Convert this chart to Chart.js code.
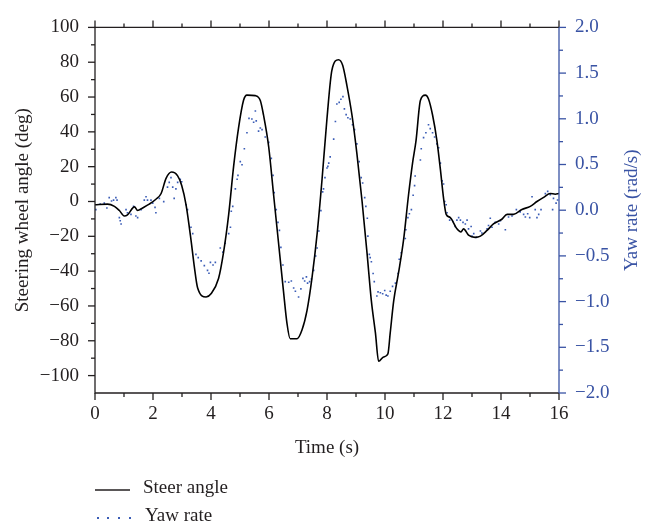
<!DOCTYPE html>
<html>
<head>
<meta charset="utf-8">
<script src="https://cdn.jsdelivr.net/npm/chart.js@4.4.0/dist/chart.umd.min.js"></script>
<style>
  html, body { margin: 0; padding: 0; background: #fff; }
  canvas { display: block; }
</style>
</head>
<body>
<canvas id="chart" width="661" height="531"></canvas>
<script>
// Steering wheel angle (deg) vs time (s)
const steerTime = [0, 0.43, 0.67, 0.84, 1.01, 1.12, 1.36, 1.47, 1.64, 1.87, 2.10, 2.28, 2.45, 2.64, 2.85, 2.99,
  3.14, 3.31, 3.42, 3.54, 3.83, 4.0, 4.26, 4.43, 4.61, 4.78, 4.95, 5.12, 5.24, 5.53, 5.70, 5.81, 5.99,
  6.16, 6.33, 6.50, 6.62, 6.73, 6.97, 7.14, 7.31, 7.48, 7.66, 7.83, 8.0, 8.17, 8.40, 8.54, 8.69, 8.86,
  9.03, 9.21, 9.38, 9.53, 9.67, 9.78, 9.95, 10.10, 10.18, 10.30, 10.47, 10.64, 10.81, 10.95, 11.07,
  11.22, 11.39, 11.50, 11.64, 11.79, 11.91, 12.02, 12.11, 12.25, 12.48, 12.62, 12.71, 12.88, 13.11,
  13.29, 13.52, 13.74, 14.03, 14.21, 14.43, 14.72, 15.01, 15.24, 15.47, 15.70, 15.87, 16.0];
const steerAngle = [-1.9, -1.5, -2.8, -5.2, -8.3, -7.7, -3.1, -5.2, -3.7, -1.5, 1.3, 4.6, 13.3, 16.9, 14.7, 9.2,
  -1.9, -22, -36.8, -49.7, -54.9, -53, -44.2, -29.5, -7.4, 20.2, 42.3, 58, 61.1, 60.8, 58, 49.7, 31.3,
  3.6, -24, -51.6, -70, -78.8, -78.8, -73.7, -62.7, -44.2, -18.5, 12.9, 47.8, 75.5, 81.4, 78.2, 66.3, 49.7,
  27.6, 0, -29.5, -57.1, -75.5, -91.8, -89.3, -87.5, -75.5, -57.1, -40.6, -22.1, 3.6, 22.1, 35,
  58, 61.1, 58.9, 49.7, 35, 18.4, 1.8, -7.4, -9.2, -15.7, -17.5, -15.7, -19.3, -20.6,
  -19.9, -16.6, -12.9, -10.2, -7.4, -7.4, -4.6, -2.8, 0, 2.4, 4.6, 4.2, 4.6];

// Yaw rate (rad/s) samples
const yawTime = [0.03, 0.18, 0.32, 0.41, 0.49, 0.57, 0.64, 0.72, 0.76, 0.84, 0.87, 0.90, 1.07, 1.12, 1.24, 1.33,
  1.41, 1.47, 1.59, 1.70, 1.76, 1.81, 1.93, 1.99, 2.07, 2.10, 2.22, 2.37, 2.50, 2.56, 2.62, 2.68, 2.73,
  2.79, 2.85, 2.94, 2.99, 3.14, 3.19, 3.31, 3.37, 3.48, 3.56, 3.66, 3.77, 3.88, 3.93, 3.98, 4.07, 4.15,
  4.32, 4.41, 4.49, 4.61, 4.67, 4.70, 4.75, 4.84, 4.90, 4.93, 5.01, 5.07, 5.15, 5.24, 5.31, 5.41, 5.47,
  5.53, 5.56, 5.64, 5.70, 5.76, 5.87, 5.99, 6.08, 6.14, 6.18, 6.25, 6.31, 6.36, 6.41, 6.48, 6.56, 6.68,
  6.77, 6.85, 6.91, 7.02, 7.10, 7.17, 7.23, 7.29, 7.33, 7.40, 7.46, 7.54, 7.61, 7.66, 7.72, 7.79, 7.85,
  7.88, 7.93, 8.0, 8.03, 8.06, 8.11, 8.23, 8.29, 8.34, 8.42, 8.48, 8.55, 8.60, 8.66, 8.72, 8.80, 8.88,
  8.95, 9.03, 9.11, 9.18, 9.23, 9.30, 9.34, 9.39, 9.41, 9.46, 9.49, 9.53, 9.59, 9.63, 9.72, 9.76, 9.84,
  9.92, 9.99, 10.04, 10.10, 10.18, 10.26, 10.36, 10.45, 10.49, 10.56, 10.70, 10.72, 10.79, 10.84, 10.91,
  10.97, 11.02, 11.04, 11.22, 11.25, 11.33, 11.41, 11.50, 11.56, 11.64, 11.71, 11.79, 11.85, 11.91, 11.97,
  12.02, 12.06, 12.11, 12.14, 12.23, 12.34, 12.42, 12.48, 12.54, 12.60, 12.69, 12.77, 12.83, 12.88, 12.97,
  13.0, 13.06, 13.15, 13.29, 13.34, 13.52, 13.57, 13.63, 13.69, 13.80, 13.92, 13.98, 14.15, 14.26, 14.38,
  14.53, 14.66, 14.78, 14.84, 14.92, 14.99, 15.07, 15.18, 15.24, 15.30, 15.38, 15.53, 15.61, 15.70, 15.78,
  15.81, 15.90, 15.95];
const yawRate = [0.006, 0.066, 0.077, 0.024, 0.137, 0.10, 0.11, 0.137, 0.11, -0.081, -0.116, -0.151, 0.006, -0.028, -0.046, 0.042,
  -0.063, -0.081, 0.006, 0.11, 0.147, 0.11, 0.11, 0.077, 0.031, -0.028, 0.129, 0.094, 0.252, 0.305, 0.357, 0.252, 0.129,
  0.234, 0.305, 0.339, 0.311, 0.059, 0.006, -0.186, -0.256, -0.483, -0.519, -0.554, -0.606, -0.659, -0.69, -0.571, -0.599, -0.571,
  -0.414, -0.459, -0.361, -0.256, -0.186, -0.011, 0.042, 0.234, 0.339, 0.381, 0.532, 0.497, 0.672, 0.847, 1.004, 0.998, 0.962,
  1.085, 0.977, 0.865, 0.899, 0.882, 0.801, 0.742, 0.567, 0.381, 0.192, 0.006, -0.133, -0.221, -0.407, -0.599, -0.781, -0.788,
  -0.774, -0.851, -0.887, -0.95, -0.861, -0.746, -0.774, -0.729, -0.798, -0.781, -0.753, -0.659, -0.501, -0.414, -0.228, -0.004, 0.20,
  0.234, 0.357, 0.462, 0.479, 0.515, 0.584, 0.777, 0.97, 1.162, 1.18, 1.214, 1.243, 1.109, 1.046, 1.012, 0.998, 0.935,
  0.882, 0.725, 0.532, 0.357, 0.297, 0.137, 0.042, -0.088, -0.284, -0.483, -0.519, -0.564, -0.693, -0.781, -0.939, -0.893, -0.903,
  -0.914, -0.879, -0.929, -0.939, -0.887, -0.834, -0.798, -0.693, -0.536, -0.466, -0.309, -0.214, -0.081, -0.039, 0.006,
  0.164, 0.269, 0.374, 0.549, 0.672, 0.794, 0.847, 0.935, 0.893, 0.847, 0.801, 0.725, 0.683, 0.515, 0.321,
  0.287, 0.095, 0.059, -0.028, -0.109, -0.123, -0.179, -0.109, -0.081, -0.109, -0.133, -0.151, -0.109, -0.204, -0.179,
  -0.284, -0.256, -0.298, -0.228, -0.249, -0.204, -0.168, -0.088, -0.186, -0.133, -0.151, -0.116, -0.214, -0.074, -0.063,
  0.006, -0.018, -0.046, -0.074, -0.039, -0.081, 0.147, 0.006, -0.081, -0.046, 0.006, 0.182, 0.206, 0.171, 0.006,
  0.129, 0.077, 0.111];

// Axis ticks
const xTicks = [0, 2, 4, 6, 8, 10, 12, 14, 16];
const leftTicks = [-100, -80, -60, -40, -20, 0, 20, 40, 60, 80, 100];
const rightTicks = [-2, -1.5, -1, -0.5, 0, 0.5, 1, 1.5, 2];

const BLUE = '#3953a4';
const DOT = '#3a5cb6';
const INK = '#231f20';
const FONT = "'Liberation Serif', 'DejaVu Serif', serif";
const FS = 19;

const minus = s => String(s).replace('-', '\u2212');

// frame, minor/major ticks, right title and legend
const framePlugin = {
  id: 'frame',
  afterDraw(chart) {
    const { ctx, chartArea: a, scales: { x, y, y2 } } = chart;
    ctx.save();
    ctx.lineWidth = 1.3;
    const seg = (x1, y1, x2, y2_) => { ctx.beginPath(); ctx.moveTo(x1, y1); ctx.lineTo(x2, y2_); ctx.stroke(); };

    ctx.strokeStyle = INK;
    ctx.beginPath();
    ctx.moveTo(a.right, a.top); ctx.lineTo(a.left, a.top);
    ctx.lineTo(a.left, a.bottom); ctx.lineTo(a.right, a.bottom);
    ctx.stroke();

    for (let v = 0; v <= 16; v++) {
      const px = x.getPixelForValue(v);
      const len = v % 2 === 0 ? 7 : 4;
      seg(px, a.bottom, px, a.bottom + len);
      seg(px, a.top, px, a.top - len);
    }
    for (let v = -100; v <= 100; v += 10) {
      const py = y.getPixelForValue(v);
      seg(a.left, py, a.left - (v % 20 === 0 ? 7 : 4), py);
    }

    ctx.strokeStyle = BLUE;
    seg(a.right, a.top, a.right, a.bottom);
    for (let i = -8; i <= 8; i++) {
      const py = y2.getPixelForValue(i * 0.25);
      seg(a.right, py, a.right + (i % 2 === 0 ? 7 : 4), py);
    }

    // right axis title (reads bottom to top)
    ctx.fillStyle = BLUE;
    ctx.font = FS + 'px ' + FONT;
    ctx.textAlign = 'center';
    ctx.textBaseline = 'middle';
    ctx.save();
    ctx.translate(632, (a.top + a.bottom) / 2);
    ctx.rotate(-Math.PI / 2);
    ctx.fillText('Yaw rate (rad/s)', 0, 0);
    ctx.restore();

    // legend
    ctx.textAlign = 'left';
    ctx.fillStyle = INK;
    ctx.strokeStyle = INK;
    ctx.lineWidth = 1.5;
    seg(a.left, 490, a.left + 35, 490);
    ctx.fillText('Steer angle', a.left + 48, 488);
    ctx.fillStyle = DOT;
    [2, 12, 23, 34].forEach(d => ctx.fillRect(a.left + d, 517, 2, 2));
    ctx.fillStyle = INK;
    ctx.fillText('Yaw rate', a.left + 50, 516);
    ctx.restore();
  }
};

new Chart(document.getElementById('chart'), {
  type: 'line',
  data: {
    datasets: [
      {
        label: 'Steer angle',
        data: steerTime.map((t, i) => ({ x: t, y: steerAngle[i] })),
        yAxisID: 'y',
        borderColor: '#000',
        borderWidth: 1.6,
        pointRadius: 0,
        cubicInterpolationMode: 'monotone'
      },
      {
        label: 'Yaw rate',
        data: yawTime.map((t, i) => ({ x: t, y: yawRate[i] })),
        yAxisID: 'y2',
        showLine: false,
        pointStyle: 'rect',
        pointRadius: 1.15,
        pointBorderWidth: 0,
        pointBackgroundColor: DOT
      }
    ]
  },
  options: {
    responsive: false,
    animation: false,
    layout: { padding: { top: 12, bottom: 68, left: 0, right: 0 } },
    plugins: { legend: { display: false }, tooltip: { enabled: false } },
    scales: {
      x: {
        type: 'linear', min: 0, max: 16,
        afterBuildTicks: s => { s.ticks = xTicks.map(v => ({ value: v })); },
        afterFit: s => { s.height = 70; },
        grid: { display: false, drawTicks: false },
        border: { display: false },
        ticks: { color: INK, font: { family: FONT, size: FS }, padding: 10, maxRotation: 0, autoSkip: false },
        title: { display: true, text: 'Time (s)', color: INK, font: { family: FONT, size: FS }, padding: { top: 0, bottom: 4 } }
      },
      y: {
        position: 'left', min: -110, max: 100,
        afterBuildTicks: s => { s.ticks = leftTicks.map(v => ({ value: v })); },
        afterFit: s => { s.width = 95; },
        grid: { display: false, drawTicks: false },
        border: { display: false },
        ticks: { color: INK, font: { family: FONT, size: FS }, padding: 16, callback: v => minus(v) },
        title: { display: true, text: 'Steering wheel angle (deg)', color: INK, font: { family: FONT, size: FS }, padding: { top: 12, bottom: 4 } }
      },
      y2: {
        position: 'right', min: -2, max: 2,
        afterBuildTicks: s => { s.ticks = rightTicks.map(v => ({ value: v })); },
        afterFit: s => { s.width = 102; },
        grid: { display: false, drawTicks: false },
        border: { display: false },
        ticks: { color: BLUE, font: { family: FONT, size: FS }, padding: 16, callback: v => minus(v.toFixed(1)) }
      }
    }
  },
  plugins: [framePlugin]
});
</script>
</body>
</html>
